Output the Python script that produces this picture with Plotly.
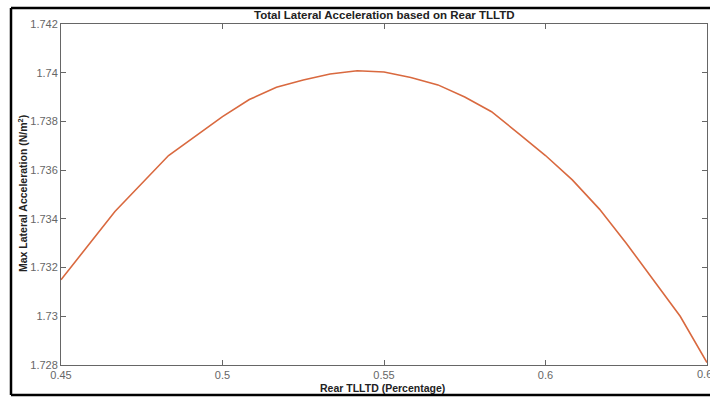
import plotly.graph_objects as go

rear_tlltd = [0.45, 0.4667, 0.4833, 0.5, 0.5083, 0.5167, 0.525, 0.5333, 0.5417, 0.55,
              0.5583, 0.5667, 0.575, 0.5833, 0.5917, 0.6, 0.6083, 0.6167, 0.625,
              0.6333, 0.6417, 0.65]
max_lat_acc = [1.7315, 1.7343, 1.7366, 1.7382, 1.7389, 1.7394, 1.7397, 1.73995, 1.74008, 1.74003,
               1.7398, 1.7395, 1.7390, 1.7384, 1.7375, 1.7366, 1.7356, 1.7344, 1.7330,
               1.7315, 1.7300, 1.7281]

x_ticks = [0.45, 0.5, 0.55, 0.6, 0.65]
x_tick_labels = ["0.45", "0.5", "0.55", "0.6", "0.65"]
y_ticks = [1.728, 1.73, 1.732, 1.734, 1.736, 1.738, 1.74, 1.742]
y_tick_labels = ["1.728", "1.73", "1.732", "1.734", "1.736", "1.738", "1.74", "1.742"]

W, H = 710, 398
L, R, T, B = 61, 3, 24, 33
pw, ph = W - L - R, H - T - B

def px(x):
    return (x - L) / pw

def py(y):
    return (H - B - y) / ph

FONT = "Liberation Sans, Arial"
TICKCOL = "#666666"

fig = go.Figure()
fig.add_trace(go.Scatter(x=rear_tlltd, y=max_lat_acc, mode="lines",
                         line=dict(color="#d9693f", width=1.6), showlegend=False,
                         hoverinfo="skip"))

axis_common = dict(showgrid=False, zeroline=False, showline=True, linecolor="#666666",
                   linewidth=1, mirror="ticks", ticks="inside", ticklen=5,
                   tickcolor="#666666", tickwidth=1,
                   tickfont=dict(family=FONT, size=11, color=TICKCOL))

annotations = [
    dict(text="<b>Total Lateral Acceleration based on Rear TLLTD</b>", xref="paper", yref="paper",
         x=px(384), y=py(15), showarrow=False, xanchor="center", yanchor="middle",
         font=dict(family=FONT, size=11.5, color="#222222")),
    dict(text="<b>Rear TLLTD (Percentage)</b>", xref="paper", yref="paper",
         x=px(382), y=py(388), showarrow=False, xanchor="center", yanchor="middle",
         font=dict(family=FONT, size=10.5, color="#222222")),
    dict(text="<b>Max Lateral Acceleration (N/m<sup>2</sup>)</b>", xref="paper", yref="paper",
         x=px(22), y=py(194), showarrow=False, xanchor="center", yanchor="middle",
         textangle=-90,
         font=dict(family=FONT, size=10.5, color="#222222")),
    # last x tick label, partly cut by the window edge as in the reference
    dict(text=x_tick_labels[-1], xref="x", yref="paper", x=x_ticks[-1], y=py(366),
         showarrow=False, xanchor="center", yanchor="top",
         font=dict(family=FONT, size=11, color=TICKCOL)),
]

fig.update_layout(
    width=W, height=H,
    margin=dict(l=L, r=R, t=T, b=B),
    paper_bgcolor="white", plot_bgcolor="white",
    xaxis=dict(range=[0.45, 0.65], tickvals=x_ticks[:-1], ticktext=x_tick_labels[:-1], **axis_common),
    yaxis=dict(range=[1.728, 1.742], tickvals=y_ticks, ticktext=y_tick_labels, **axis_common),
    annotations=annotations,
    shapes=[
        dict(type="line", xref="x", yref="y", x0=x_ticks[-1], x1=x_ticks[-1], y0=1.728, y1=1.728,
             line=dict(width=0)),
        dict(type="line", xref="paper", yref="paper", x0=px(11), x1=px(712), y0=py(8), y1=py(8),
             line=dict(color="black", width=2.5)),
        dict(type="line", xref="paper", yref="paper", x0=px(11), x1=px(712), y0=py(395), y1=py(395),
             line=dict(color="black", width=2.5)),
        dict(type="line", xref="paper", yref="paper", x0=px(11), x1=px(11), y0=py(8), y1=py(395),
             line=dict(color="black", width=2.5)),
    ],
)

fig.write_html("out.html", config={"displayModeBar": False},
               post_script="document.body.style.margin='0';document.body.style.overflow='hidden';")
